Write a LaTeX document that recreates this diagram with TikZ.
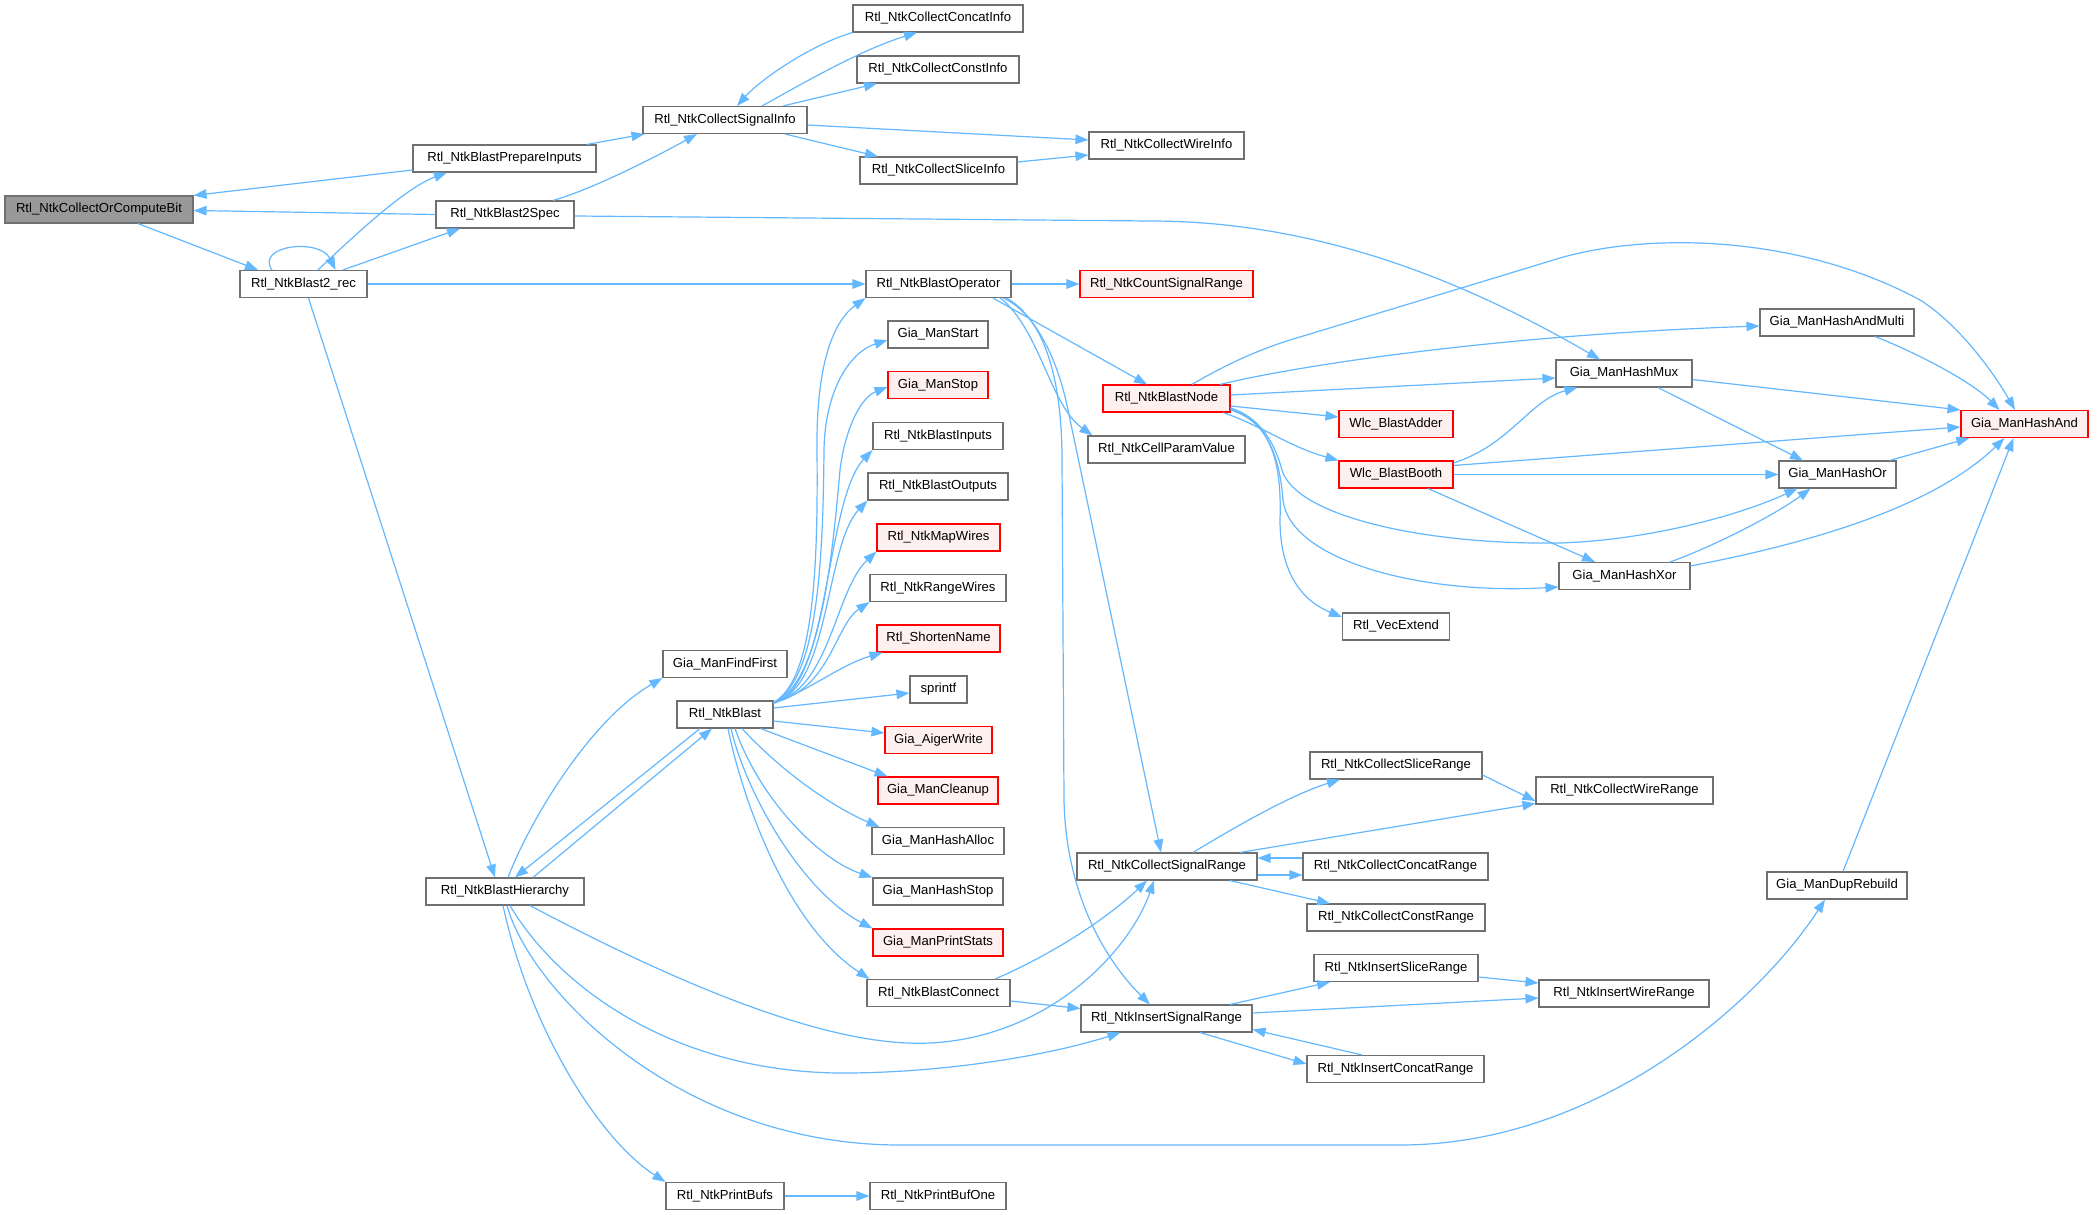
\documentclass[tikz,border=0pt]{standalone}
\usepackage{fontspec}
\setmainfont{Liberation Sans}
\usetikzlibrary{arrows.meta}
\definecolor{edgeblue}{HTML}{63B8FF}
\definecolor{boxgray}{HTML}{707070}
\definecolor{redfill}{HTML}{FFF0F0}
\definecolor{rootfill}{HTML}{999999}
\begin{document}
\begin{tikzpicture}[x=1pt,y=-1pt,
  fn/.style={draw=boxgray, line width=1.1pt, fill=white, rectangle, minimum height=27pt, inner xsep=3pt, inner ysep=0pt, font=\fontsize{13.1pt}{15pt}\selectfont, text=black},
  fnred/.style={fn, draw=red, fill=redfill},
  fnroot/.style={fn, fill=rootfill},
  call/.style={draw=edgeblue, line width=1.2pt, -{Triangle[length=13pt,width=9.5pt]}},
]
\useasboundingbox[fill=white] (0,0) rectangle (2099,1215);

% nodes
\node[fnroot, minimum width=188pt] (n1) at (99,209.5) {Rtl\_NtkCollectOrComputeBit};
\node[fn, minimum width=127pt] (n2) at (303.5,284) {Rtl\_NtkBlast2\_rec};
\node[fn, minimum width=183pt] (n3) at (504.5,158.5) {Rtl\_NtkBlastPrepareInputs};
\node[fn, minimum width=138pt] (n4) at (505,214.5) {Rtl\_NtkBlast2Spec};
\node[fn, minimum width=164pt] (n5) at (725,120) {Rtl\_NtkCollectSignalInfo};
\node[fn, minimum width=170pt] (n6) at (938,18.5) {Rtl\_NtkCollectConcatInfo};
\node[fn, minimum width=162pt] (n7) at (938,69.5) {Rtl\_NtkCollectConstInfo};
\node[fn, minimum width=157pt] (n8) at (938.5,170.5) {Rtl\_NtkCollectSliceInfo};
\node[fn, minimum width=155pt] (n9) at (1166.5,145.5) {Rtl\_NtkCollectWireInfo};
\node[fn, minimum width=145pt] (n10) at (938.5,284) {Rtl\_NtkBlastOperator};
\node[fnred, minimum width=173pt] (n11) at (1166.5,284) {Rtl\_NtkCountSignalRange};
\node[fnred, minimum width=127pt] (n12) at (1166.5,398.5) {Rtl\_NtkBlastNode};
\node[fn, minimum width=100pt] (n13) at (938,334.5) {Gia\_ManStart};
\node[fnred, minimum width=100pt] (n14) at (938,385) {Gia\_ManStop};
\node[fn, minimum width=130pt] (n15) at (938,436) {Rtl\_NtkBlastInputs};
\node[fn, minimum width=140pt] (n16) at (938,486.5) {Rtl\_NtkBlastOutputs};
\node[fnred, minimum width=123pt] (n17) at (938.5,537.5) {Rtl\_NtkMapWires};
\node[fn, minimum width=136pt] (n18) at (938,588) {Rtl\_NtkRangeWires};
\node[fnred, minimum width=123pt] (n19) at (938.5,638.5) {Rtl\_ShortenName};
\node[fn, minimum width=57pt] (n20) at (938.5,689.5) {sprintf};
\node[fnred, minimum width=107pt] (n21) at (938.5,740) {Gia\_AigerWrite};
\node[fnred, minimum width=120pt] (n22) at (938,790.5) {Gia\_ManCleanup};
\node[fn, minimum width=132pt] (n23) at (938,841) {Gia\_ManHashAlloc};
\node[fn, minimum width=130pt] (n24) at (938,891.5) {Gia\_ManHashStop};
\node[fnred, minimum width=130pt] (n25) at (938,942.5) {Gia\_ManPrintStats};
\node[fn, minimum width=143pt] (n26) at (938.5,993) {Rtl\_NtkBlastConnect};
\node[fn, minimum width=124pt] (n27) at (725,664) {Gia\_ManFindFirst};
\node[fn, minimum width=96pt] (n28) at (725,714.5) {Rtl\_NtkBlast};
\node[fn, minimum width=158pt] (n29) at (505,891.5) {Rtl\_NtkBlastHierarchy};
\node[fn, minimum width=118pt] (n30) at (725,1196) {Rtl\_NtkPrintBufs};
\node[fn, minimum width=136pt] (n31) at (938,1196) {Rtl\_NtkPrintBufOne};
\node[fn, minimum width=180pt] (n32) at (1167,866.5) {Rtl\_NtkCollectSignalRange};
\node[fn, minimum width=185pt] (n33) at (1395.5,866.5) {Rtl\_NtkCollectConcatRange};
\node[fn, minimum width=178pt] (n34) at (1396,917.5) {Rtl\_NtkCollectConstRange};
\node[fn, minimum width=164pt] (n35) at (1396,968) {Rtl\_NtkInsertSliceRange};
\node[fn, minimum width=171pt] (n36) at (1166.5,1018.5) {Rtl\_NtkInsertSignalRange};
\node[fn, minimum width=177pt] (n37) at (1395.5,1069) {Rtl\_NtkInsertConcatRange};
\node[fn, minimum width=170pt] (n38) at (1624,993.5) {Rtl\_NtkInsertWireRange};
\node[fn, minimum width=172pt] (n39) at (1396,765.5) {Rtl\_NtkCollectSliceRange};
\node[fn, minimum width=177pt] (n40) at (1624.5,790.5) {Rtl\_NtkCollectWireRange};
\node[fn, minimum width=157pt] (n41) at (1166.5,449.5) {Rtl\_NtkCellParamValue};
\node[fnred, minimum width=114pt] (n42) at (1396,424) {Wlc\_BlastAdder};
\node[fnred, minimum width=114pt] (n43) at (1396,474.5) {Wlc\_BlastBooth};
\node[fn, minimum width=107pt] (n44) at (1396,626.5) {Rtl\_VecExtend};
\node[fn, minimum width=136pt] (n45) at (1624,373.5) {Gia\_ManHashMux};
\node[fn, minimum width=154pt] (n46) at (1837,322.5) {Gia\_ManHashAndMulti};
\node[fnred, minimum width=127pt] (n47) at (2024.5,424) {Gia\_ManHashAnd};
\node[fn, minimum width=117pt] (n48) at (1837.5,474.5) {Gia\_ManHashOr};
\node[fn, minimum width=131pt] (n49) at (1624.5,576) {Gia\_ManHashXor};
\node[fn, minimum width=140pt] (n50) at (1837,885.5) {Gia\_ManDupRebuild};

% edges
\draw[call] ([xshift=39pt]n1.south) -- ([xshift=-45.5pt]n2.north);
\draw[call] ([xshift=-31.5pt]n2.north) .. controls (255,245) and (320,238) .. ([xshift=32pt]n2.north);
\draw[call] ([xshift=14.5pt]n2.north) .. controls (355,235) and (405,188) .. ([xshift=-57.5pt]n3.south);
\draw[call] ([yshift=-11.5pt]n3.west) -- (n1.north east);
\draw[call] ([xshift=39.5pt]n2.north) -- ([xshift=-45pt]n4.south);
\draw[call] (n4.west) -- ([yshift=-1pt]n1.east);
\draw[call] ([xshift=82.5pt]n3.north) -- ([xshift=2pt]n5.south west);
\draw[call] ([xshift=48pt]n4.north) .. controls (590,190) and (650,160) .. ([xshift=-28pt]n5.south);
\draw[call] ([yshift=-1.5pt]n4.east) -- (1150,221) .. controls (1330,221) and (1480,290) .. ([xshift=-24pt]n45.north);
\draw[call] (n2.east) -- (n10.west);
\draw[call] ([xshift=5pt]n2.south) -- ([xshift=-10pt]n29.north);
\draw[call] ([xshift=37pt]n5.north) .. controls (800,85) and (860,50) .. ([xshift=-21pt]n6.south);
\draw[call] (n6.south west) .. controls (810,45) and (760,80) .. ([xshift=12pt]n5.north);
\draw[call] ([xshift=58pt]n5.north) -- ([xshift=-61pt]n7.south);
\draw[call] ([yshift=-5pt]n5.east) -- ([yshift=5.5pt]n9.west);
\draw[call] ([xshift=60pt]n5.south) -- ([xshift=-60.5pt]n8.north);
\draw[call] ([yshift=8.5pt]n8.east) -- ([yshift=-9.5pt]n9.west);
\draw[call] (n10.east) -- (n11.west);
\draw[call] ([xshift=54.5pt]n10.south) -- ([xshift=-19.5pt]n12.north);
\draw[call] ([xshift=62pt]n10.south) .. controls (1040,330) and (1050,405) .. ([xshift=5pt]n41.north west);
\draw[call] ([xshift=65pt]n10.south) .. controls (1040,315) and (1060,370) .. (1068,410) -- ([xshift=-6pt]n32.north);
\draw[call] ([xshift=68pt]n10.south) .. controls (1045,320) and (1062,380) .. (1062,460) -- (1064,800) .. controls (1066,900) and (1110,965) .. ([xshift=-16.5pt]n36.north);
% BlastNode
\draw[call] ([xshift=25.5pt]n12.north) .. controls (1230,362) and (1265,347) .. (1300,337) -- (1560,258) .. controls (1650,232) and (1800,235) .. (1920,300) .. controls (1960,325) and (1995,375) .. ([xshift=-9.5pt]n47.north);
\draw[call] ([xshift=53.5pt]n12.north) .. controls (1300,365) and (1500,335) .. ([yshift=-3.5pt]n46.west);
\draw[call] ([yshift=3.5pt]n12.east) -- ([yshift=-4.5pt]n45.west);
\draw[call] ([yshift=-7.5pt]n12.east) -- ([yshift=7pt]n42.west);
\draw[call] ([xshift=56.5pt]n12.south) .. controls (1260,425) and (1290,447) .. (n43.north west);
\draw[call] ([yshift=-9.5pt]n12.east) .. controls (1262,418) and (1275,445) .. (1282,470) .. controls (1295,515) and (1420,545) .. (1560,543) .. controls (1650,540) and (1740,515) .. ([xshift=-40pt]n48.south);
\draw[call] ([yshift=-10.5pt]n12.east) .. controls (1268,420) and (1280,460) .. (1283,500) .. controls (1290,560) and (1420,595) .. ([yshift=-11pt]n49.west);
\draw[call] ([yshift=-11.5pt]n12.east) .. controls (1270,422) and (1282,460) .. (1280,520) .. controls (1280,570) and (1300,600) .. ([yshift=9.5pt]n44.west);
% Booth
\draw[call] ([yshift=11.5pt]n43.east) .. controls (1510,445) and (1530,400) .. ([xshift=22pt]n45.south west);
\draw[call] ([yshift=9pt]n43.east) -- ([yshift=-3pt]n47.west);
\draw[call] (n43.east) -- (n48.west);
\draw[call] ([xshift=32pt]n43.south) -- ([xshift=-29.5pt]n49.north);
% Hash
\draw[call] ([yshift=-6pt]n45.east) -- (n47.north west);
\draw[call] ([xshift=34pt]n45.south) -- ([xshift=-34.5pt]n48.north);
\draw[call] ([xshift=38pt]n46.south) .. controls (1910,350) and (1970,380) .. ([xshift=-25pt]n47.north);
\draw[call] ([xshift=52pt]n48.north) -- ([xshift=9pt]n47.south west);
\draw[call] ([xshift=45.5pt]n49.north) .. controls (1710,548) and (1775,515) .. ([xshift=-27pt]n48.south);
\draw[call] ([yshift=10pt]n49.east) .. controls (1800,545) and (1930,510) .. ([xshift=-20pt]n47.south);
\draw[call] ([xshift=6pt]n50.north) -- ([xshift=-11pt]n47.south);
% Hierarchy
\draw[call] ([xshift=3pt]n29.north) .. controls (530,820) and (590,720) .. (n27.south west);
\draw[call] ([xshift=28pt]n29.north) -- ([xshift=-13pt]n28.south);
\draw[call] ([xshift=-25pt]n28.south) -- ([xshift=10pt]n29.north);
\draw[call] ([xshift=25pt]n29.south) .. controls (680,985) and (830,1048) .. (930,1043) .. controls (1050,1037) and (1130,950) .. ([xshift=-13pt]n32.south);
\draw[call] ([xshift=5pt]n29.south) .. controls (560,990) and (680,1075) .. (850,1073) .. controls (950,1072) and (1050,1055) .. ([xshift=-46pt]n36.south);
\draw[call] ([xshift=2pt]n29.south) .. controls (530,990) and (680,1145) .. (900,1145) -- (1400,1145) .. controls (1600,1145) and (1760,1000) .. ([xshift=-12pt]n50.south);
\draw[call] ([xshift=-2pt]n29.south) .. controls (530,1030) and (600,1140) .. (n30.north west);
\draw[call] (n30.east) -- (n31.west);
\draw[call] ([yshift=-8pt]n26.east) -- ([yshift=10pt]n36.west);
\draw[call] ([xshift=56.5pt]n26.north) .. controls (1040,960) and (1100,925) .. ([xshift=-20pt]n32.south);
% Blast fan
\draw[call] ([yshift=-2pt]n28.north east) .. controls (815,680) and (818,560) .. (817,450) .. controls (816,360) and (835,320) .. (n10.south west);
\draw[call] ([yshift=-2pt]n28.north east) .. controls (818,680) and (823,560) .. (824,450) .. controls (825,390) and (850,352) .. ([yshift=-5.5pt]n13.west);
\draw[call] ([yshift=-2pt]n28.north east) .. controls (820,685) and (832,560) .. (840,470) .. controls (845,430) and (860,398) .. ([yshift=-2pt]n14.west);
\draw[call] ([yshift=-2pt]n28.north east) .. controls (830,690) and (825,500) .. (n15.south west);
\draw[call] ([yshift=-2pt]n28.north east) .. controls (830,690) and (825,545) .. (n16.south west);
\draw[call] ([yshift=-2pt]n28.north east) .. controls (830,690) and (835,590) .. (n17.south west);
\draw[call] ([yshift=-2pt]n28.north east) .. controls (830,690) and (835,625) .. (n18.south west);
\draw[call] ([yshift=-3pt]n28.north east) .. controls (810,690) and (840,665) .. ([xshift=6pt]n19.south west);
\draw[call] ([yshift=6.5pt]n28.east) -- ([yshift=-3.5pt]n20.west);
\draw[call] ([yshift=-6.5pt]n28.east) -- ([yshift=7pt]n21.west);
\draw[call] ([xshift=-13pt]n28.south east) -- ([xshift=10pt]n22.north west);
\draw[call] ([xshift=17pt]n28.south) .. controls (790,780) and (840,810) .. ([xshift=8pt]n23.north west);
\draw[call] ([xshift=10pt]n28.south) .. controls (760,800) and (820,860) .. (n24.north west);
\draw[call] ([xshift=6pt]n28.south) .. controls (745,790) and (800,890) .. (n25.north west);
\draw[call] ([xshift=3pt]n28.south) .. controls (738,780) and (780,920) .. ([xshift=3pt]n26.north west);
% ranges
\draw[call] ([xshift=26pt]n32.north) .. controls (1230,830) and (1290,795) .. ([xshift=-56pt]n39.south);
\draw[call] ([xshift=73pt]n32.north) -- ([yshift=-13pt]n40.west);
\draw[call] ([yshift=-9.5pt]n39.east) -- ([yshift=-10.5pt]n40.west);
\draw[call] ([yshift=-8.5pt]n32.east) -- ([yshift=-8.5pt]n33.west);
\draw[call] ([yshift=8.5pt]n33.west) -- ([yshift=8.5pt]n32.east);
\draw[call] ([xshift=63pt]n32.south) -- ([xshift=-66pt]n34.north);
\draw[call] ([xshift=63.5pt]n36.north) -- ([xshift=-66pt]n35.south);
\draw[call] ([yshift=5.5pt]n36.east) -- ([yshift=-4.5pt]n38.west);
\draw[call] ([yshift=-9pt]n35.east) -- ([yshift=10.5pt]n38.west);
\draw[call] ([xshift=33.5pt]n36.south) -- ([yshift=5pt]n37.west);
\draw[call] ([xshift=-33.5pt]n37.north) -- ([yshift=-11pt]n36.east);
\end{tikzpicture}
\end{document}
